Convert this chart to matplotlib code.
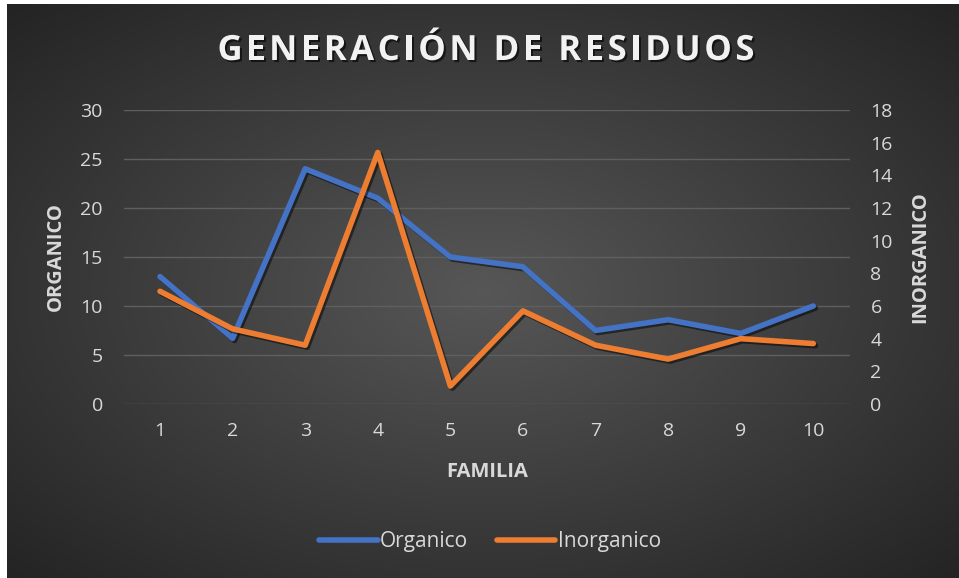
import numpy as np
import matplotlib
matplotlib.use("Agg")
from matplotlib import pyplot as plt
import matplotlib.patheffects as pe

familia = [1, 2, 3, 4, 5, 6, 7, 8, 9, 10]
organico = [13.0, 6.7, 24.0, 21.0, 15.0, 14.0, 7.5, 8.6, 7.2, 10.0]
inorganico = [6.9, 4.6, 3.6, 15.4, 1.1, 5.7, 3.6, 2.75, 4.0, 3.7]
titulo = 'GENERACIÓN DE RESIDUOS'

W, H = 959, 578
plt.rcParams['font.family'] = ['Open Sans', 'DejaVu Sans']
txt = '#d9d9d9'

fig = plt.figure(figsize=(W / 100, H / 100), dpi=100, facecolor='white')

# radial gradient background (dark chart style)
bg = fig.add_axes([7 / W, 0, 1 - 7 / W, 1 - 4 / H])
yy, xx = np.mgrid[0:300, 0:500]
r = np.sqrt(((xx - 250) / 250) ** 2 + ((yy - 150) / 150) ** 2) / np.sqrt(2)
shade = 0.34 - 0.20 * r
bg.imshow(np.dstack([shade, shade, shade]), aspect='auto', extent=[0, 1, 0, 1])
bg.axis('off')

ax = fig.add_axes([123.7 / W, 1 - 404 / H, (849.6 - 123.7) / W, (404 - 110) / H])
ax.patch.set_alpha(0)
ax2 = ax.twinx()

shadow = [pe.SimpleLineShadow(offset=(1.5, -1.5), alpha=0.5, shadow_color='black'), pe.Normal()]
l1, = ax.plot(familia, organico, color='#4472C4', lw=4.0, solid_capstyle='round',
              solid_joinstyle='round', path_effects=shadow, label='Organico')
l2, = ax2.plot(familia, inorganico, color='#ED7D31', lw=4.0, solid_capstyle='round',
               solid_joinstyle='round', path_effects=shadow, label='Inorganico')

ax.set_xlim(0.5, 10.5)
ax.set_ylim(0, 30)
ax.set_yticks(range(0, 31, 5))
ax2.set_ylim(0, 18)
ax2.set_yticks(range(0, 19, 2))
ax.set_xticks(familia)
ax.grid(axis='y', color='#5f5f5f', lw=1)
ax.set_axisbelow(True)
for a in (ax, ax2):
    for s in a.spines.values():
        s.set_visible(False)
    a.tick_params(length=0, labelsize=14, labelcolor=txt)
ax.tick_params(axis='y', pad=15)
ax2.tick_params(axis='y', pad=15)
ax.tick_params(axis='x', pad=13)

# title with letter spacing, placed char by char
tkw = dict(fontsize=25, fontweight='bold', color='#f2f2f2', va='center', ha='left')
renderer = fig.canvas.get_renderer()
def width_of(s):
    t = fig.text(0, 0, s, **tkw)
    w = t.get_window_extent(renderer).width
    t.remove()
    return w
space_w = width_of('A A') - width_of('AA')
widths = [space_w if c == ' ' else width_of(c) for c in titulo]
target = 537
gap = (target - sum(widths)) / (len(titulo) - 1)
x = 486 - target / 2
for c, w in zip(titulo, widths):
    if c != ' ':
        fig.text(x / W, 1 - 51 / H, c, **tkw,
                 path_effects=[pe.withSimplePatchShadow(offset=(1.5, -1.5), alpha=0.6,
                                                        shadow_rgbFace='black')])
    x += w + gap

fig.text(56 / W, 1 - 257 / H, 'ORGANICO', rotation=90, ha='center', va='center',
         fontsize=14.5, fontweight='bold', color=txt)
fig.text(920 / W, 1 - 257 / H, 'INORGANICO', rotation=90, ha='center', va='center',
         fontsize=14.5, fontweight='bold', color=txt)
fig.text(487 / W, 1 - 472 / H, 'FAMILIA', ha='center', va='center',
         fontsize=14.5, fontweight='bold', color=txt)

leg = fig.legend(handles=[l1, l2], loc='center', bbox_to_anchor=(490 / W, 1 - 542 / H),
                 ncol=2, frameon=False, fontsize=15, handlelength=2.8, handletextpad=0.1,
                 columnspacing=1.4)
for t in leg.get_texts():
    t.set_color(txt)
for h in leg.legend_handles:
    h.set_path_effects([])

fig.savefig('out.png', dpi=100, facecolor=fig.get_facecolor())
